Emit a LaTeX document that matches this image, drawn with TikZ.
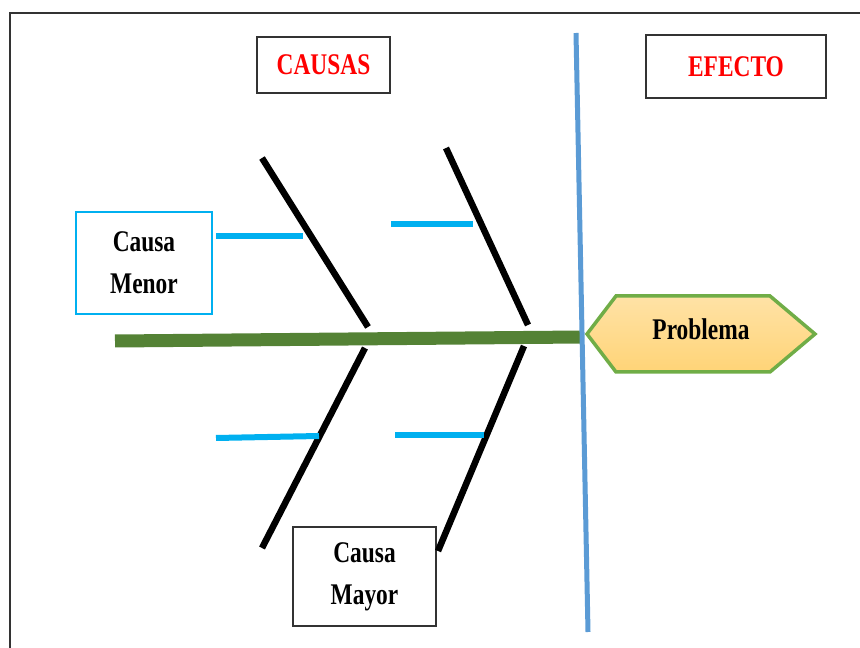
\documentclass[tikz,border=0pt]{standalone}
\usepackage{fontspec}
\setmainfont[FakeStretch=0.78]{Liberation Serif}
\newlength{\pxl}
\setlength{\pxl}{0.75pt}
\definecolor{spinegreen}{HTML}{548235}
\definecolor{axisblue}{HTML}{5B9BD5}
\definecolor{twigcyan}{HTML}{00B0F0}
\definecolor{hexgreen}{HTML}{70AD47}
\definecolor{hextop}{HTML}{FFE2A6}
\definecolor{hexbot}{HTML}{FFD477}

\begin{document}
\begin{tikzpicture}[
   x=0.75pt, y=-0.75pt,
   cbox/.style={draw=black!80, line width=2\pxl, inner sep=0pt, align=center,
                font=\fontsize{22.5}{31.5}\selectfont\bfseries},
   headbox/.style={cbox, text=red},
   menorbox/.style={cbox, draw=twigcyan},
   bone/.style={line width=6.5\pxl, black},
   twig/.style={line width=6\pxl, twigcyan},
   spine/.style={line width=13\pxl, spinegreen},
   axis/.style={line width=5\pxl, axisblue},
   hexa/.style={draw=hexgreen, line width=3.5\pxl, top color=hextop, bottom color=hexbot}
]
\useasboundingbox (0,0) rectangle (860,648);
\draw[line width=2\pxl, black!80] (10,648) -- (10,13) -- (860,13);

% Nodes
\node[headbox, minimum width=133\pxl, minimum height=56\pxl] (causas) at (323.5,65) {CAUSAS};
\node[headbox, minimum width=180\pxl, minimum height=63\pxl] (efecto) at (736,66.5) {EFECTO};
\node[menorbox, minimum width=136\pxl, minimum height=102\pxl] (menor) at (144,263) {Causa\\Menor};
\node[cbox, minimum width=143\pxl, minimum height=99\pxl] (mayor) at (364.5,576.5) {Causa\\Mayor};

% Bones
\coordinate (b1a) at (262,158); \coordinate (b1b) at (368,327);
\coordinate (b2a) at (446,148); \coordinate (b2b) at (528,325);
\coordinate (b3a) at (365,348); \coordinate (b3b) at (262,548);
\coordinate (b4a) at (524,346); \coordinate (b4b) at (438,551);
\draw[bone] (b1a) -- (b1b);
\draw[bone] (b2a) -- (b2b);
\draw[bone] (b3a) -- (b3b);
\draw[bone] (b4a) -- (b4b);

% Twigs
\coordinate (t1) at (216,236); \coordinate (t1e) at (303,236);
\coordinate (t2) at (391,224); \coordinate (t2e) at (473,224);
\coordinate (t3) at (216,438); \coordinate (t3e) at (319,436);
\coordinate (t4) at (395,435); \coordinate (t4e) at (484,435);
\draw[twig] (t1) -- (t1e);
\draw[twig] (t2) -- (t2e);
\draw[twig] (t3) -- (t3e);
\draw[twig] (t4) -- (t4e);

% Spine and divider
\coordinate (tail) at (115,341);
\coordinate (head) at (582,337);
\draw[spine] (tail) -- (head);
\coordinate (divtop) at (576,33);
\coordinate (divbot) at (588,632);
\draw[axis] (divtop) -- (divbot);

% Problem
\coordinate (h1) at (587,334); \coordinate (h2) at (616,296);
\coordinate (h3) at (770,296); \coordinate (h4) at (815,334);
\coordinate (h5) at (770,372); \coordinate (h6) at (616,372);
\path[hexa] (h1) -- (h2) -- (h3) -- (h4) -- (h5) -- (h6) -- cycle;
\node[font=\fontsize{22.5}{30}\selectfont\bfseries] (problema) at (701,329) {Problema};

\end{tikzpicture}
\end{document}
